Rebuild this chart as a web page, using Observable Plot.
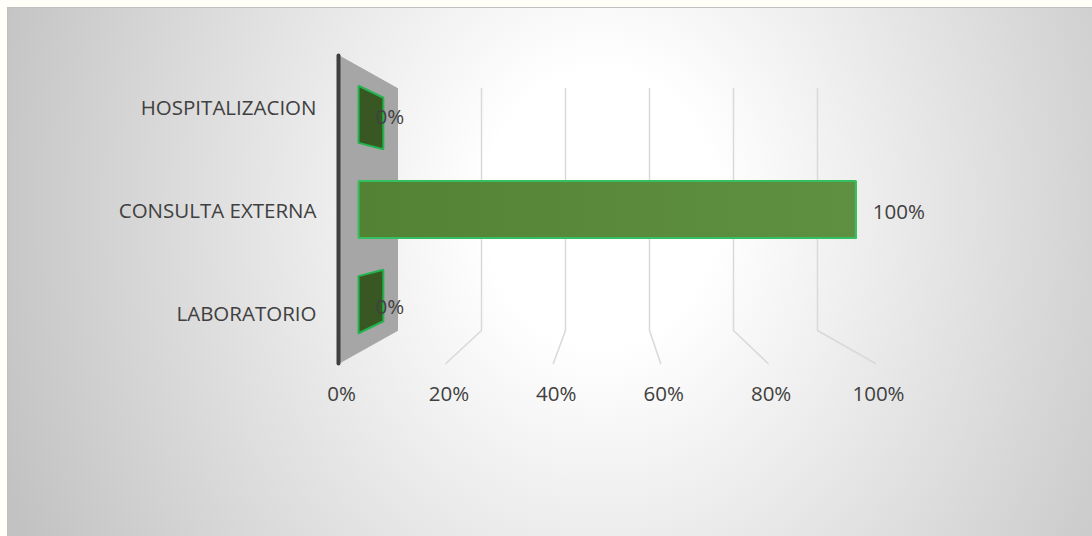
<!DOCTYPE html>
<html><head><meta charset="utf-8">
<script src="https://cdn.jsdelivr.net/npm/d3@7"></script>
<script src="https://cdn.jsdelivr.net/npm/@observablehq/plot@0.6"></script>
<style>
html,body{margin:0;padding:0;background:#fffff8;width:1092px;height:536px;overflow:hidden}
#bg{position:absolute;left:7px;top:7px;width:1085px;height:529px;border-left:1.5px solid #bfbfbf;border-top:1.5px solid #bfbfbf;box-sizing:border-box;background:radial-gradient(ellipse 640px 760px at 593px 200px,#ffffff 0%,#ffffff 18%,#c2c2c2 100%)}
#chart{position:absolute;left:0;top:0}
</style></head><body><div id="bg"></div><div id="chart"></div>
<script>
// ---- data ----
const categories = ["LABORATORIO", "CONSULTA EXTERNA", "HOSPITALIZACION"];
const values = [0, 1, 0];
const barLabels = ["0%", "100%", "0%"];
const tickValues = [0, 0.2, 0.4, 0.6, 0.8, 1];
const tickLabels = ["0%", "20%", "40%", "60%", "80%", "100%"];

// ---- 3D projection (in data units of the front plane) ----
const backX = v => (59 + 420 * v) / 537;
const backY = c => (33 + (242 / 3) * c) / (308 / 3);
const px = (v, d) => v * (1 - d) + d * backX(v);
const py = (c, d) => c * (1 - d) + d * backY(c);
const N = categories.length;
const D0 = 0.34, D1 = 0.76;

// gridlines: back wall vertical + floor diagonal
const grid = [];
tickValues.filter(t => t > 0).forEach(t => {
  grid.push({x: px(t, 1), y: py(N, 1), z: t});
  grid.push({x: px(t, 1), y: py(0, 1), z: t});
  grid.push({x: px(t, 0), y: py(0, 0), z: t});
});

// side wall
const wall = [[0, N, 0], [0, N, 1], [0, 0, 1], [0, 0, 0], [0, N, 0]]
  .map(([v, c, d]) => ({x: px(v, d), y: py(c, d)}));
const wallEdge = [{x: px(0, 0), y: py(N, 0)}, {x: px(0, 0), y: py(0, 0)}];

// bars
const sideFaces = [], frontFaces = [];
values.forEach((v, i) => {
  const lo = i + 0.2, hi = i + 0.8;
  [[v, lo, D0], [v, hi, D0], [v, hi, D1], [v, lo, D1], [v, lo, D0]]
    .forEach(([a, c, d]) => sideFaces.push({x: px(a, d), y: py(c, d), z: i}));
  if (v > 0)
    [[0, lo], [v, lo], [v, hi], [0, hi], [0, lo]]
      .forEach(([a, c]) => frontFaces.push({x: px(a, D0), y: py(c, D0), z: i}));
});

const labelData = values.map((v, i) => ({x: px(v, D0), y: py(i + 0.5, D0), t: barLabels[i]}));
const catData = categories.map((c, i) => ({x: px(0, 0), y: py(i + 0.5, 0), t: c}));
const tickData = tickValues.map((t, i) => ({x: px(t, 0), y: py(0, 0), t: tickLabels[i]}));

const defs = () => {
  const g = d3.create("svg:defs");
  const lg = g.append("linearGradient").attr("id", "barGrad").attr("x1", "0").attr("x2", "1").attr("y1", "0").attr("y2", "0");
  lg.append("stop").attr("offset", "0").attr("stop-color", "#548235");
  lg.append("stop").attr("offset", "1").attr("stop-color", "#5f9041");
  return g.node();
};

const font = {fontFamily: "Open Sans", fontSize: 20.5, fill: "#404040"};

const chart = Plot.plot({
  width: 1092, height: 536, margin: 0,
  x: {domain: [0, 1], range: [338, 875], axis: null},
  y: {domain: [0, N], range: [363, 55], axis: null},
  style: {background: "transparent", overflow: "visible"},
  marks: [
    defs,
    Plot.line(grid, {x: "x", y: "y", z: "z", stroke: "#d9d9d9", strokeWidth: 1.5, curve: "linear"}),
    Plot.line(wall, {x: "x", y: "y", fill: "#a6a6a6", stroke: "#a6a6a6", strokeWidth: 1}),
    Plot.line(wallEdge, {x: "x", y: "y", stroke: "#3f3f3f", strokeWidth: 4}),
    Plot.line(sideFaces, {x: "x", y: "y", z: "z", fill: "#385723", stroke: "#23b34f", strokeWidth: 2, strokeLinejoin: "miter"}),
    Plot.line(frontFaces, {x: "x", y: "y", z: "z", fill: "url(#barGrad)", stroke: "#35c060", strokeWidth: 2, strokeLinejoin: "miter"}),
    Plot.text(labelData, {x: "x", y: "y", text: "t", dx: 17, dy: 3, textAnchor: "start", ...font}),
    Plot.text(catData, {x: "x", y: "y", text: "t", dx: -22, dy: 2, textAnchor: "end", ...font}),
    Plot.text(tickData, {x: "x", y: "y", text: "t", dy: 31, dx: 3, textAnchor: "middle", ...font})
  ]
});
document.getElementById("chart").appendChild(chart);
</script>
</body></html>
